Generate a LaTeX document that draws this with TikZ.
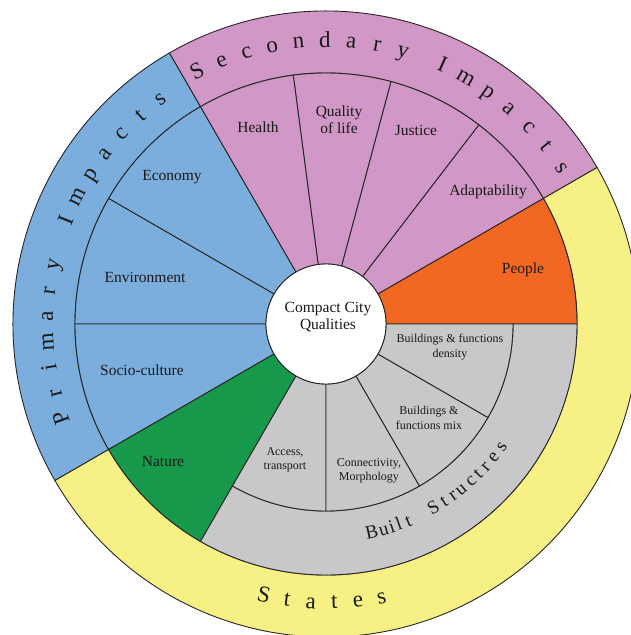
\documentclass[tikz,border=0pt]{standalone}
\usepackage{fontspec}
\setmainfont{Liberation Serif}
\definecolor{pblue}{HTML}{7BAEDC}
\definecolor{spurple}{HTML}{D197C6}
\definecolor{porange}{HTML}{F26822}
\definecolor{ngreen}{HTML}{16994A}
\definecolor{bgray}{HTML}{C8C8CA}
\definecolor{syellow}{HTML}{F7F185}
\definecolor{edge}{HTML}{262626}
\definecolor{ink}{HTML}{1A1A1A}
% annular sector: fill, start angle, end angle, inner radius, outer radius
\newcommand\ringsector[5]{%
  \path[sector, fill=#1] (#2:#4) arc[start angle=#2, end angle=#3, radius=#4]
    -- (#3:#5) arc[start angle=#3, end angle=#2, radius=#5] -- cycle;}
\begin{document}
\begin{tikzpicture}[x=1pt, y=1pt,
  sector/.style={draw=edge, line width=0.9pt},
  label/.style={font=\fontsize{15.5}{17}\selectfont, align=center, text=ink, inner sep=0pt},
  small/.style={font=\fontsize{12}{14.5}\selectfont, align=center, text=ink, inner sep=0pt},
  outerletter/.style={font=\fontsize{23}{23}\selectfont, anchor=base, inner sep=0pt, text=ink},
  builtletter/.style={font=\fontsize{19}{19}\selectfont, anchor=base, inner sep=0pt, text=ink}]
\useasboundingbox (-326,-311) rectangle (305,324);
\clip (-326,-311) rectangle (305,324);

% outer ring: impacts and states
\ringsector{pblue}{120}{210}{251pt}{313pt}
\ringsector{spurple}{30}{120}{251pt}{313pt}
\ringsector{syellow}{210}{390}{251pt}{313pt}

% primary impacts
\ringsector{pblue}{120}{150}{60pt}{251pt}
\ringsector{pblue}{150}{180}{60pt}{251pt}
\ringsector{pblue}{180}{210}{60pt}{251pt}
% secondary impacts
\ringsector{spurple}{30}{52.5}{60pt}{251pt}
\ringsector{spurple}{52.5}{75}{60pt}{251pt}
\ringsector{spurple}{75}{97.5}{60pt}{251pt}
\ringsector{spurple}{97.5}{120}{60pt}{251pt}
% states
\ringsector{porange}{0}{30}{60pt}{251pt}
\ringsector{ngreen}{210}{240}{60pt}{251pt}
\ringsector{bgray}{240}{360}{187pt}{251pt}
\ringsector{bgray}{240}{270}{60pt}{187pt}
\ringsector{bgray}{270}{300}{60pt}{187pt}
\ringsector{bgray}{300}{330}{60pt}{187pt}
\ringsector{bgray}{330}{360}{60pt}{187pt}

% centre
\node[circle, draw=edge, line width=0.9pt, fill=white, minimum size=120pt, inner sep=0pt] (core) at (0,0) {};
\node[label] (coretext) at (2,7) {Compact City\\Qualities};

% sector labels
\node[label] (health) at (-68,197) {Health};
\node[label] (quality) at (13,204) {Quality\\of life};
\node[label] (justice) at (90,194) {Justice};
\node[label] (adapt) at (162,132) {Adaptability};
\node[label] (people) at (197,54) {People};
\node[label] (economy) at (-154,147) {Economy};
\node[label] (environment) at (-181,47) {Environment};
\node[label] (socio) at (-184,-46) {Socio-culture};
\node[label] (nature) at (-163,-137) {Nature};
\node[small] (access) at (-41,-136) {Access,\\transport};
\node[small] (connect) at (43,-147) {Connectivity,\\Morphology};
\node[small] (mix) at (103,-94) {Buildings \&\\functions mix};
\node[small] (density) at (124,-23) {Buildings \& functions\\density};

% ring titles, one letter at a time
\foreach \a/\c [count=\i] in {117/S,111.65/e,106.3/c,100.95/o,95.6/n,90.25/d,84.9/a,79.55/r,74.2/y,
    65.8/I,60.4/m,55.0/p,49.6/a,44.2/c,38.8/t,33.4/s}
  \node[outerletter, rotate=\a-90] (sec\i) at (\a:277pt) {\c};
\foreach \a/\c [count=\i] in {199.6/P,194.3/r,189/i,183.7/m,178.4/a,173.1/r,167.8/y,
    158.2/I,152.9/m,147.6/p,142.3/a,137/c,131.7/t,126.4/s}
  \node[outerletter, rotate=\a-90] (pri\i) at (\a:273pt) {\c};
\foreach \a/\c [count=\i] in {257.1/S,262/t,266.9/a,271.7/t,276.6/e,281.5/s}
  \node[outerletter, rotate=\a+90] (sta\i) at (\a:285pt) {\c};
\foreach \a/\c [count=\i] in {282.4/B,285.7/u,288/i,290/l,292.7/t,
    300.3/S,303.6/t,306.5/r,309.2/u,312.7/c,315.4/t,318.3/r,321.5/e,325.2/s}
  \node[builtletter, rotate=\a+90] (blt\i) at (\a:219pt) {\c};
\end{tikzpicture}
\end{document}
